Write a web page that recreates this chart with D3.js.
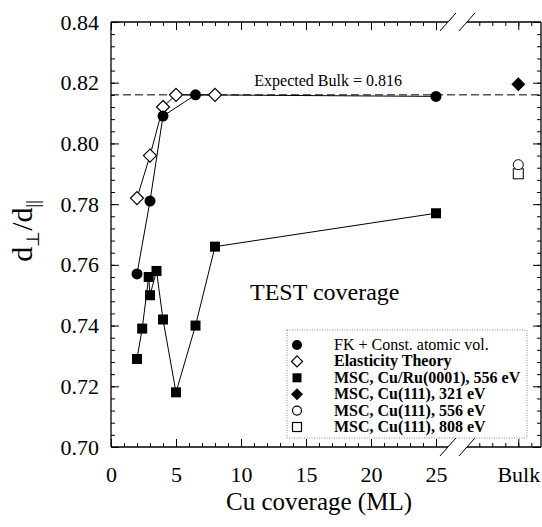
<!DOCTYPE html>
<html>
<head>
<meta charset="utf-8">
<script src="https://cdn.jsdelivr.net/npm/d3@7"></script>
<style>
body { margin: 0; background: #fff; }
.axis path.domain { display: none; }
</style>
</head>
<body>
<svg id="chart"></svg>
<script>
// data
var BULK = 31.33;   // position of the "Bulk" category after the axis break

var fkX  = [2, 3, 4, 6.5, 25];
var fkY  = [0.757, 0.781, 0.809, 0.816, 0.8155];

var elX  = [2, 3, 4, 5, 8];
var elY  = [0.782, 0.796, 0.812, 0.816, 0.816];

var mscX = [2, 2.4, 2.9, 3, 3.5, 4, 5, 6.5, 8, 25];
var mscY = [0.729, 0.739, 0.756, 0.750, 0.758, 0.742, 0.718, 0.740, 0.766, 0.777];

var bulk321 = 0.8195, bulk556 = 0.793, bulk808 = 0.790;
var expectedBulk = 0.816;

var xMajor = [0, 5, 10, 15, 20, 25, BULK];
var yMajor = [0.70, 0.72, 0.74, 0.76, 0.78, 0.80, 0.82, 0.84];

var legendLabels = ["FK + Const. atomic vol.", "Elasticity Theory", "MSC, Cu/Ru(0001), 556 eV",
                    "MSC, Cu(111), 321 eV", "MSC, Cu(111), 556 eV", "MSC, Cu(111), 808 eV"];

var FONT = "Liberation Serif";

var W = 542, H = 527;
var margin = {top: 22, right: 1, bottom: 80, left: 111},
    width = W - margin.left - margin.right,
    height = H - margin.top - margin.bottom;

var root = d3.select("#chart").attr("width", W).attr("height", H);

// diagnostic text drawn first
root.append("text").attr("x", 250).attr("y", 300).attr("font-family", "Liberation Serif")
    .attr("font-size", 24).text("TEST coverage");

var svg = root.append("g")
    .attr("transform", "translate(" + margin.left + "," + margin.top + ")");

var x = d3.scaleLinear().domain([0, width / 13]).range([0, width]);
var y = d3.scaleLinear().domain([0.70, 0.84]).range([height, 0]);

var brk = [25.92, 27.38];
var xMinor = d3.range(0, 26, 1).concat(d3.range(-3, 2).map(function(k) { return BULK + k; }));
var yMinor = d3.range(0, 36).map(function(i) { return 0.70 + i * 0.004; });

var fmtX = function(d) { return d === BULK ? "Bulk" : d3.format("d")(d); };

function ticksOnly(g, axis, tx, ty) {
    g.append("g").attr("class", "axis")
        .attr("transform", "translate(" + tx + "," + ty + ")")
        .call(axis)
        .call(function(s) { s.selectAll("text").remove(); })
        .selectAll("line").attr("stroke", "#000");
}
function labelled(g, axis, tx, ty) {
    var a = g.append("g").attr("class", "axis")
        .attr("transform", "translate(" + tx + "," + ty + ")")
        .call(axis)
        .attr("font-family", FONT).attr("font-size", 22);
    a.selectAll("line").attr("stroke", "#000");
}

ticksOnly(svg, d3.axisBottom(x).tickValues(xMinor).tickSize(-4), 0, height);
labelled(svg, d3.axisBottom(x).tickValues(xMajor).tickSize(-8).tickPadding(19).tickFormat(fmtX), 0, height);
ticksOnly(svg, d3.axisTop(x).tickValues(xMinor).tickSize(-4), 0, 0);
ticksOnly(svg, d3.axisTop(x).tickValues(xMajor).tickSize(-8), 0, 0);
ticksOnly(svg, d3.axisLeft(y).tickValues(yMinor).tickSize(-4), 0, 0);
labelled(svg, d3.axisLeft(y).tickValues(yMajor).tickSize(-8).tickPadding(12).tickFormat(d3.format(".2f")), 0, 0);
ticksOnly(svg, d3.axisRight(y).tickValues(yMinor).tickSize(-4), width, 0);
ticksOnly(svg, d3.axisRight(y).tickValues(yMajor).tickSize(-8), width, 0);

var frame = svg.append("g").attr("stroke", "#000").attr("stroke-width", 1.3).attr("fill", "none");
frame.append("line").attr("x1", 0).attr("x2", 0).attr("y1", 0).attr("y2", height);
frame.append("line").attr("x1", width).attr("x2", width).attr("y1", 0).attr("y2", height);
[0, height].forEach(function(yy) {
    frame.append("line").attr("x1", 0).attr("x2", x(brk[0])).attr("y1", yy).attr("y2", yy);
    frame.append("line").attr("x1", x(brk[1])).attr("x2", width).attr("y1", yy).attr("y2", yy);
    brk.forEach(function(b) {
        frame.append("line").attr("stroke-width", 1)
            .attr("x1", x(b) - 8).attr("y1", yy + 9)
            .attr("x2", x(b) + 8).attr("y2", yy - 9);
    });
});

svg.append("line")
    .attr("x1", 0).attr("x2", width)
    .attr("y1", y(expectedBulk)).attr("y2", y(expectedBulk))
    .attr("stroke", "#000").attr("stroke-width", 1)
    .attr("stroke-dasharray", "8,4");
svg.append("text")
    .attr("x", x(16.7)).attr("y", y(expectedBulk) - 9)
    .attr("text-anchor", "middle")
    .attr("font-family", FONT).attr("font-size", 16)
    .text("Expected Bulk = " + expectedBulk);

var line = d3.line().x(function(d) { return x(d[0]); }).y(function(d) { return y(d[1]); });
var fk  = d3.zip(fkX, fkY), el = d3.zip(elX, elY), msc = d3.zip(mscX, mscY);
[el, fk, msc].forEach(function(s) {
    svg.append("path").datum(s).attr("d", line)
        .attr("fill", "none").attr("stroke", "#000").attr("stroke-width", 1);
});

var diamond = function(r) { return "M0," + (-r) + "L" + r + ",0L0," + r + "L" + (-r) + ",0Z"; };

svg.selectAll(".el").data(el).enter().append("path")
    .attr("transform", function(d) { return "translate(" + x(d[0]) + "," + y(d[1]) + ")"; })
    .attr("d", diamond(6.5)).attr("fill", "#fff").attr("stroke", "#000").attr("stroke-width", 1.2);
svg.selectAll(".fk").data(fk).enter().append("circle")
    .attr("cx", function(d) { return x(d[0]); }).attr("cy", function(d) { return y(d[1]); })
    .attr("r", 5.5).attr("fill", "#000");
svg.selectAll(".msc").data(msc).enter().append("rect")
    .attr("x", function(d) { return x(d[0]) - 5; }).attr("y", function(d) { return y(d[1]) - 5; })
    .attr("width", 10).attr("height", 10).attr("fill", "#000");

svg.append("path")
    .attr("transform", "translate(" + x(BULK) + "," + y(bulk321) + ")")
    .attr("d", diamond(7)).attr("fill", "#000");
svg.append("rect")
    .attr("x", x(BULK) - 5).attr("y", y(bulk808) - 5).attr("width", 10).attr("height", 10)
    .attr("fill", "#fff").attr("stroke", "#000").attr("stroke-width", 1);
svg.append("circle")
    .attr("cx", x(BULK)).attr("cy", y(bulk556)).attr("r", 5)
    .attr("fill", "#fff").attr("stroke", "#000").attr("stroke-width", 1);

var lg = root.append("g").attr("transform", "translate(287,330)");
lg.append("rect").attr("width", 240).attr("height", 108)
    .attr("fill", "#fff").attr("stroke", "#888").attr("stroke-width", 1)
    .attr("stroke-dasharray", "1,1.5");
var rowY = function(i) { return 15 + i * 16.4; };
var sym = lg.append("g").attr("transform", "translate(10,0)");
sym.append("circle").attr("cy", rowY(0)).attr("r", 5).attr("fill", "#000");
sym.append("path").attr("transform", "translate(0," + rowY(1) + ")").attr("d", diamond(5.5))
    .attr("fill", "#fff").attr("stroke", "#000").attr("stroke-width", 1.3);
sym.append("rect").attr("x", -4.5).attr("y", rowY(2) - 4.5).attr("width", 9).attr("height", 9).attr("fill", "#000");
sym.append("path").attr("transform", "translate(0," + rowY(3) + ")").attr("d", diamond(6)).attr("fill", "#000");
sym.append("circle").attr("cy", rowY(4)).attr("r", 4.5)
    .attr("fill", "#fff").attr("stroke", "#000").attr("stroke-width", 1.2);
sym.append("rect").attr("x", -4.5).attr("y", rowY(5) - 4.5).attr("width", 9).attr("height", 9)
    .attr("fill", "#fff").attr("stroke", "#000").attr("stroke-width", 1.2);
lg.selectAll(".lt").data(legendLabels).enter().append("text")
    .attr("x", 47).attr("y", function(d, i) { return rowY(i) + 5; })
    .attr("font-family", FONT).attr("font-size", 16)
    .attr("font-weight", function(d, i) { return i === 0 ? "normal" : "bold"; })
    .text(function(d) { return d; });

root.append("text")
    .attr("x", 319).attr("y", 510).attr("text-anchor", "middle")
    .attr("font-family", FONT).attr("font-size", 25)
    .text("Cu coverage (ML)");

var yt = root.append("text")
    .attr("transform", "translate(32,231) rotate(-90)")
    .attr("text-anchor", "middle")
    .attr("font-family", FONT).attr("font-size", 30);
yt.append("tspan").text("d");
yt.append("tspan").attr("dy", 7).attr("font-size", 18).text("\u22A5");
yt.append("tspan").attr("dy", -7).text("/d");
yt.append("tspan").attr("dy", 7).attr("font-size", 18).text("||");
</script>
</body>
</html>
